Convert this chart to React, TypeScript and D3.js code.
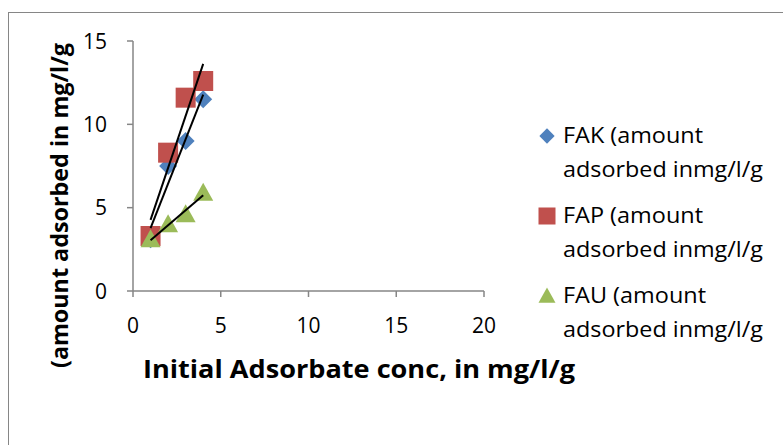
import React, { useMemo } from "react";
import * as d3 from "d3";

const xValues = [1, 2, 3, 4];
const fakValues = [3.1, 7.5, 9.0, 11.5];
const fapValues = [3.3, 8.3, 11.6, 12.6];
const fauValues = [3.1, 4.0, 4.6, 5.9];
const xTicks = [0, 5, 10, 15, 20];
const yTicks = [0, 5, 10, 15];
const seriesNames = ["FAK (amount", "FAP (amount", "FAU (amount"];
const legendLine2 = "adsorbed inmg/l/g";
const xTitle = "Initial Adsorbate conc, in mg/l/g";
const yTitle = "(amount adsorbed in mg/l/g";

const colors = ["#4F81BD", "#C0504D", "#9BBB59"];
const FONT = "'Open Sans', Lato, sans-serif";

function fit(xs: number[], ys: number[]) {
  const mx = d3.mean(xs)!;
  const my = d3.mean(ys)!;
  let sxy = 0, sxx = 0;
  xs.forEach((x, i) => { sxy += (x - mx) * (ys[i] - my); sxx += (x - mx) ** 2; });
  const b = sxy / sxx;
  return { b, a: my - b * mx };
}

function Marker({ kind, cx, cy, color, s = 1 }: { kind: number; cx: number; cy: number; color: string; s?: number }) {
  if (kind === 0) {
    const r = 9 * s;
    return <path d={`M${cx},${cy - r}L${cx + r},${cy}L${cx},${cy + r}L${cx - r},${cy}Z`} fill={color} />;
  }
  if (kind === 1) {
    const h = 10 * s;
    return <rect x={cx - h} y={cy - h} width={2 * h} height={2 * h} fill={color} />;
  }
  const h = 10 * s;
  return <path d={`M${cx},${cy - h}L${cx + h},${cy + 0.8 * h}L${cx - h},${cy + 0.8 * h}Z`} fill={color} />;
}

export default function App() {
  const x = d3.scaleLinear().domain([0, 20]).range([133, 484]);
  const y = d3.scaleLinear().domain([0, 15]).range([291, 41]);
  const series = [fakValues, fapValues, fauValues];
  const fits = useMemo(() => series.map((s) => fit(xValues, s)), []);
  const x0 = d3.min(xValues)!;
  const x1 = d3.max(xValues)!;
  const axisColor = "#868686";
  const legendW1 = [140, 140, 143];

  return (
    <svg width={783} height={445} style={{ position: "absolute", left: 0, top: 0 }} fontFamily={FONT}>
      <rect x={0} y={0} width={783} height={445} fill="#fff" />
      <rect x={8.5} y={12.5} width={800} height={460} fill="none" stroke="#868686" strokeWidth={1} />
      {/* axes */}
      <line x1={x(0)} x2={x(0)} y1={y(15)} y2={y(0)} stroke={axisColor} strokeWidth={1.5} />
      <line x1={x(0)} x2={x(20)} y1={y(0)} y2={y(0)} stroke={axisColor} strokeWidth={1.5} />
      {yTicks.map((t) => (
        <g key={"y" + t}>
          <line x1={x(0) - 6} x2={x(0)} y1={y(t)} y2={y(t)} stroke={axisColor} strokeWidth={1.5} />
          <text x={x(0) - 26} y={y(t) + 7.5} textAnchor="end" fontSize={21} fill="#000">{t}</text>
        </g>
      ))}
      {xTicks.map((t) => (
        <g key={"x" + t}>
          <line x1={x(t)} x2={x(t)} y1={y(0)} y2={y(0) + 6} stroke={axisColor} strokeWidth={1.5} />
          <text x={x(t)} y={333} textAnchor="middle" fontSize={21} fill="#000">{t}</text>
        </g>
      ))}
      {/* markers */}
      {[0, 1, 2].map((si) =>
        series[si].map((v, i) => (
          <Marker key={si + "-" + i} kind={si} cx={x(xValues[i])} cy={y(v)} color={colors[si]} />
        ))
      )}
      {/* trendlines */}
      {fits.map((f, i) => (
        <line key={"t" + i} x1={x(x0)} y1={y(f.a + f.b * x0)} x2={x(x1)} y2={y(f.a + f.b * x1)} stroke="#000" strokeWidth={2} />
      ))}
      {/* titles */}
      <text x={143} y={378} fontSize={25} fontWeight="bold" fill="#000" textLength={432} lengthAdjust="spacingAndGlyphs">{xTitle}</text>
      <text transform={`translate(68,368) rotate(-90)`} fontSize={23} fontWeight="bold" fill="#000" textLength={325} lengthAdjust="spacingAndGlyphs">{yTitle}</text>
      {/* legend */}
      {seriesNames.map((n, i) => {
        const base = 143 + i * 80;
        return (
          <g key={"l" + i}>
            <Marker kind={i} cx={547} cy={base - 7} color={colors[i]} s={0.85} />
            <text x={563} y={base} fontSize={21} fill="#000" textLength={legendW1[i]} lengthAdjust="spacingAndGlyphs">{n}</text>
            <text x={563} y={base + 34} fontSize={21} fill="#000" textLength={200} lengthAdjust="spacingAndGlyphs">{legendLine2}</text>
          </g>
        );
      })}
    </svg>
  );
}
